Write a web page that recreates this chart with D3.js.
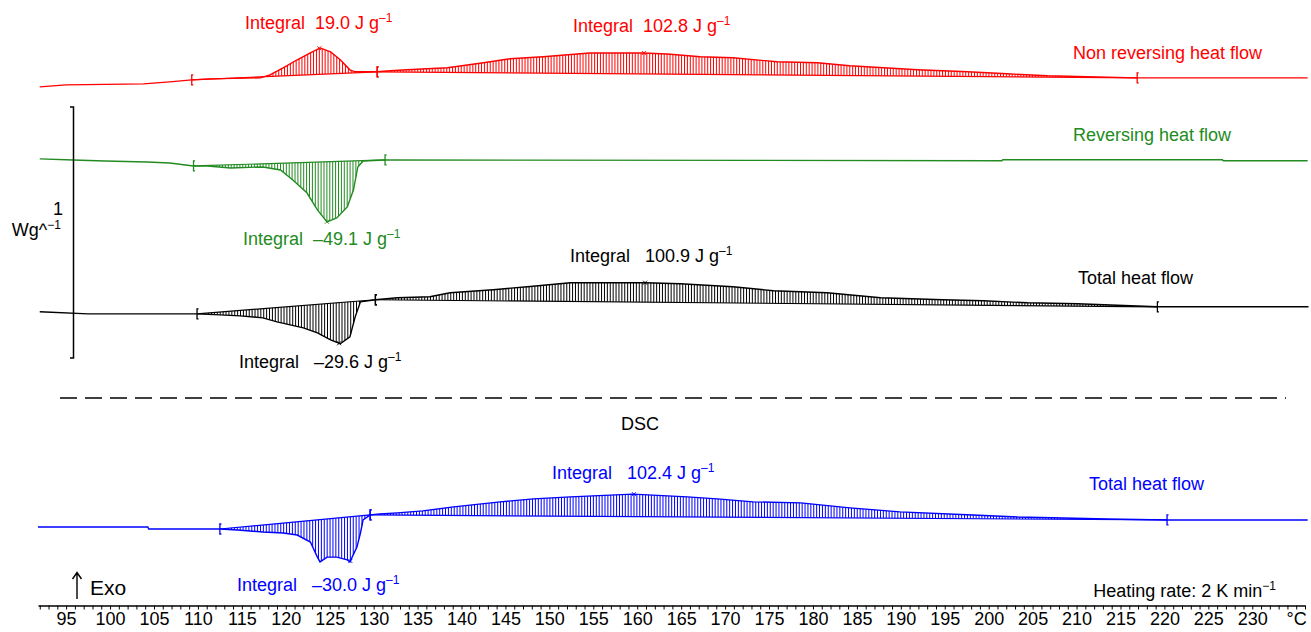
<!DOCTYPE html>
<html>
<head>
<meta charset="utf-8">
<script src="https://cdn.jsdelivr.net/npm/d3@7"></script>
<style>
    body { margin: 0; background: #fff; }
    svg { display: block; font-family: "Liberation Sans", Arial, sans-serif; }
    text { white-space: pre; }
</style>
</head>
<body>
<svg id="chart" width="1311" height="632"></svg>
<script>
// temperatures in °C, heat flow in W/g relative to the start of each trace
const nonRevT  = [92.0, 95.0, 103.8, 106.8, 109.3, 111.4, 117.1, 118.2, 119.7, 121.3, 122.8, 123.9, 125.1, 126.2, 127.3, 127.9, 130.4, 131.9, 133.8, 138.4, 142.5, 145.5, 149.3, 154.6, 160.7, 163.4, 167.2, 170.9, 175.9, 180.5, 184.2, 191.9, 197.6, 202.1, 206.7, 216.9, 236.3];
const nonRevHF = [0, 0.008, 0.012, 0.020, 0.028, 0.032, 0.036, 0.048, 0.076, 0.108, 0.135, 0.155, 0.139, 0.108, 0.068, 0.060, 0.060, 0.064, 0.068, 0.076, 0.096, 0.112, 0.120, 0.135, 0.135, 0.131, 0.120, 0.116, 0.100, 0.096, 0.084, 0.068, 0.060, 0.052, 0.044, 0.036, 0.036];

const revT  = [92.0, 95.8, 99.4, 104.2, 106.8, 109.5, 111.1, 113.7, 117.4, 119.4, 120.8, 122.4, 123.6, 124.7, 125.8, 127.0, 127.7, 128.2, 128.8, 131.3, 201.5, 201.6, 226.6, 226.7, 236.3];
const revHF = [0.004, 0, -0.004, -0.008, -0.012, -0.024, -0.024, -0.032, -0.028, -0.040, -0.080, -0.131, -0.199, -0.247, -0.231, -0.187, -0.120, -0.028, -0.004, 0, -0.003, 0.001, 0.001, -0.003, -0.003];

const totT  = [92.0, 97.5, 109.9, 112.5, 114.8, 117.4, 119.0, 122.0, 123.6, 125.1, 126.2, 127.3, 127.9, 128.5, 130.2, 132.7, 136.4, 138.7, 143.6, 147.5, 152.4, 160.9, 164.9, 170.9, 175.5, 181.6, 187.7, 194.8, 199.4, 204.4, 210.1, 219.2, 236.4];
const totHF = [0, -0.008, -0.008, -0.012, -0.016, -0.024, -0.040, -0.064, -0.084, -0.112, -0.127, -0.100, -0.020, 0.040, 0.048, 0.056, 0.060, 0.076, 0.088, 0.100, 0.116, 0.116, 0.112, 0.100, 0.084, 0.076, 0.056, 0.048, 0.044, 0.036, 0.032, 0.020, 0.020];

const dscT  = [91.8, 104.3, 104.4, 112.5, 114.5, 117.4, 119.7, 121.3, 122.8, 123.6, 123.9, 124.7, 125.8, 127.0, 127.3, 128.1, 128.5, 128.8, 129.6, 130.7, 132.7, 135.6, 139.1, 144.4, 148.2, 152.4, 159.5, 165.7, 169.1, 173.2, 178.6, 184.2, 189.9, 198.2, 203.3, 208.5, 213.5, 220.3, 236.3];
const dscHF = [0, 0, -0.008, -0.008, -0.012, -0.020, -0.024, -0.032, -0.060, -0.120, -0.139, -0.120, -0.120, -0.131, -0.139, -0.080, -0.024, 0.028, 0.048, 0.052, 0.056, 0.064, 0.080, 0.100, 0.112, 0.120, 0.131, 0.120, 0.112, 0.100, 0.096, 0.076, 0.060, 0.048, 0.040, 0.036, 0.032, 0.028, 0.028];

// vertical shift of each trace (W/g)
const traceOffsets = [2.004, 1.713, 1.108, 0.251];
const traceNames = ["Non reversing heat flow", "Reversing heat flow", "Total heat flow", "Total heat flow"];

// integration limits (°C) and integrals (J/g)
const nonRevLimits = [[109.3, 130.4], [130.4, 216.9]];
const revLimits    = [[109.5, 131.3]];
const totLimits    = [[109.9, 130.2], [130.2, 219.2]];
const dscLimits    = [[112.5, 129.6], [129.6, 220.3]];
const nonRevIntegrals = ["19.0", "102.8"];
const revIntegrals    = ["–49.1"];
const totIntegrals    = ["–29.6", "100.9"];
const dscIntegrals    = ["–30.0", "102.4"];

const tickValues = d3.range(92, 237);

// ---- layout ----
const colors = ["#ff0000", "#228b22", "#000000", "#0000ff"];
const svg = d3.select("#chart");
const x = d3.scaleLinear().domain([91.8, 236.0]).range([38, 1305]);
const y = d3.scaleLinear().domain([0, 2.35]).range([590, 0]);

const traces = [
    {T: nonRevT, HF: nonRevHF, limits: nonRevLimits, ints: nonRevIntegrals,
     intPos: [[245, 29, "  "], [573, 32, "  "]], namePos: [1073, 59]},
    {T: revT, HF: revHF, limits: revLimits, ints: revIntegrals,
     intPos: [[243, 245, "  "]], namePos: [1073, 141]},
    {T: totT, HF: totHF, limits: totLimits, ints: totIntegrals,
     intPos: [[239, 368, "   "], [570, 262, "   "]], namePos: [1078, 284]},
    {T: dscT, HF: dscHF, limits: dscLimits, ints: dscIntegrals,
     intPos: [[237, 591, "   "], [552, 479, "   "]], namePos: [1089, 490]}
];

function valueAt(T, HF, t) {
    const i = d3.bisectRight(T, t);
    if (i <= 0) return HF[0];
    if (i >= T.length) return HF[T.length - 1];
    const f = (t - T[i - 1]) / (T[i] - T[i - 1]);
    return HF[i - 1] + f * (HF[i] - HF[i - 1]);
}

function supText(sel, px, py, main, sup, color, anchor, size) {
    const t = sel.append("text")
        .attr("x", px).attr("y", py)
        .attr("fill", color)
        .attr("font-size", size || 18)
        .attr("text-anchor", anchor || "start");
    t.append("tspan").text(main);
    if (sup) {
        t.append("tspan").attr("font-size", 12).attr("dy", -7).text(sup);
    }
    return t;
}

traces.forEach((tr, k) => {
    const off = traceOffsets[k];
    const col = colors[k];
    const g = svg.append("g").attr("stroke", col).attr("fill", "none");
    const pts = tr.T.map((t, i) => [t, tr.HF[i] + off]);

    // hatched integral areas
    tr.limits.forEach(([t0, t1]) => {
        const b0 = valueAt(tr.T, tr.HF, t0), b1 = valueAt(tr.T, tr.HF, t1);
        const hatch = [];
        for (let t = t0; t <= t1; t += 0.33) {
            const base = b0 + (b1 - b0) * (t - t0) / (t1 - t0);
            hatch.push({t: t, base: base + off, v: valueAt(tr.T, tr.HF, t) + off});
        }
        g.append("g").selectAll("line").data(hatch).join("line")
            .attr("x1", d => x(d.t)).attr("x2", d => x(d.t))
            .attr("y1", d => y(d.base)).attr("y2", d => y(d.v))
            .attr("stroke-width", 1);
        g.append("line")
            .attr("x1", x(t0)).attr("y1", y(b0 + off))
            .attr("x2", x(t1)).attr("y2", y(b1 + off))
            .attr("stroke-width", 1.2);
        // limit brackets
        [t0, t1].forEach(t => {
            const yy = y(valueAt(tr.T, tr.HF, t) + off);
            g.append("path")
                .attr("d", `M${x(t) + 1.5},${yy - 5}h-1.5v10h1.5`)
                .attr("stroke-width", 1.3);
        });
        // peak mark
        let best = null;
        hatch.forEach(d => { if (!best || Math.abs(d.v - d.base) > Math.abs(best.v - best.base)) best = d; });
        g.append("path")
            .attr("d", `M${x(best.t) - 2},${y(best.v) - 2}l4,4m0,-4l-4,4`)
            .attr("stroke-width", 0.9);
    });

    g.append("path")
        .datum(pts)
        .attr("d", d3.line().x(d => x(d[0])).y(d => y(d[1])))
        .attr("stroke-width", 1.4);

    // labels
    tr.ints.forEach((v, j) => {
        const [px, py, gap] = tr.intPos[j];
        supText(svg, px, py, "Integral" + gap + v + " J g", "–1", col);
    });
    svg.append("text")
        .attr("x", tr.namePos[0]).attr("y", tr.namePos[1])
        .attr("fill", col).attr("font-size", 18)
        .text(traceNames[k]);
});

// scale bar: 1 W/g
const barTop = 1.924;
svg.append("path")
    .attr("d", `M70,${y(barTop)}H73.5V${y(barTop - 1)}H70`)
    .attr("stroke", "#000").attr("stroke-width", 1.5).attr("fill", "none");
svg.append("text").attr("x", 63).attr("y", 215).attr("text-anchor", "end")
    .attr("font-size", 18).text("1");
supText(svg, 61, 236, "Wg^", "−1", "#000", "end");

// dashed separator + DSC title
svg.append("line")
    .attr("x1", 60).attr("x2", 1286).attr("y1", 398).attr("y2", 398)
    .attr("stroke", "#000").attr("stroke-width", 1.4)
    .attr("stroke-dasharray", "17,8");
svg.append("text").attr("x", 640).attr("y", 430).attr("text-anchor", "middle")
    .attr("font-size", 18).text("DSC");

// exo arrow
svg.append("path")
    .attr("d", "M77,599V573M72.5,579L77,572.5L81.5,579")
    .attr("stroke", "#000").attr("stroke-width", 1.4).attr("fill", "none");
svg.append("text").attr("x", 90).attr("y", 595).attr("font-size", 21).text("Exo");

supText(svg, 1276, 597, "Heating rate: 2 K min", "−1", "#000", "end");

// temperature axis
const axis = svg.append("g")
    .attr("transform", "translate(0,605.5)")
    .call(d3.axisBottom(x)
        .tickValues(tickValues)
        .tickSize(4)
        .tickSizeOuter(0)
        .tickFormat(d => d === 235 ? "°C" : (d % 5 === 0 ? d : "")));
axis.attr("font-family", null).attr("font-size", 18);
axis.select(".domain").attr("stroke-width", 1.3);
axis.selectAll(".tick line").attr("stroke-width", 1);
</script>
</body>
</html>
